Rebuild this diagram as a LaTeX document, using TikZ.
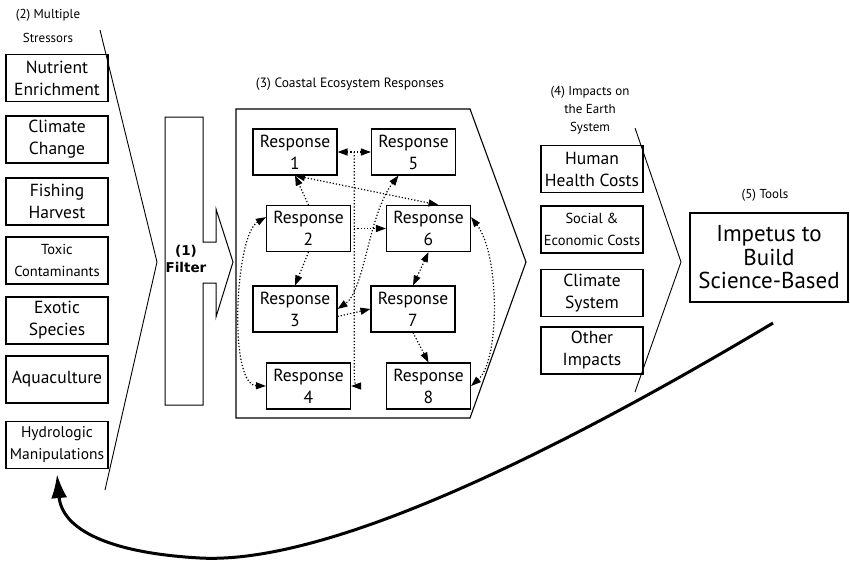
\documentclass[tikz,border=0pt]{standalone}
\usepackage{fontspec}
\setmainfont{PT Sans}
\newfontfamily\filterfont{DejaVu Sans}
\usetikzlibrary{arrows.meta,calc}

\tikzset{
  box/.style={draw, line width=1.1pt, inner sep=0pt, align=center,
    minimum width=102pt, minimum height=47pt, font=\fontsize{17.5}{22}\selectfont},
  resp/.style={box, minimum width=84pt, minimum height=46pt},
  heading/.style={align=center, font=\fontsize{13}{17}\selectfont},
  chevron/.style={line width=0.9pt},
  link/.style={dotted, line width=1.2pt,
    {Triangle[length=10pt,width=7pt]}-{Triangle[length=10pt,width=7pt]}},
  onelink/.style={link, -{Triangle[length=10pt,width=7pt]}},
}

\begin{document}
\begin{tikzpicture}[x=1pt, y=-1pt]
	\useasboundingbox (0,0) rectangle (850,560);

	% stressors column
	\node[heading] (stresslbl) at (48,26) {(2) Multiple\\[7pt]Stressors};
	\node[box] (nutrient) at (57,78) {Nutrient\\Enrichment};
	\node[box] (climate) at (57,139.5) {Climate\\Change};
	\node[box] (fishing) at (57,201.5) {Fishing\\Harvest};
	\node[box, font=\fontsize{14.5}{22}\selectfont] (toxic) at (57,260.5) {Toxic\\Contaminants};
	\node[box] (exotic) at (57,320.5) {Exotic\\Species};
	\node[box] (aqua) at (57,379.5) {Aquaculture};
	\node[box, font=\fontsize{15.5}{22}\selectfont] (hydro) at (57,445) {Hydrologic\\Manipulations};
	\draw[chevron] (100,30) -- (157,262) -- (105,490);

	% filter with its arrow
	\draw[line width=1pt] (165,117) -- (203,117) -- (203,242) -- (216,242) -- (216,209)
		-- (233,262) -- (216,317) -- (216,283) -- (203,283) -- (203,405) -- (165,405) -- cycle;
	\node[align=center, font=\filterfont\bfseries\fontsize{13.5}{17}\selectfont] (filter) at (186,259) {(1)\\Filter};

	% ecosystem responses
	\node[heading, font=\fontsize{13.5}{17}\selectfont] (resplbl) at (350,84) {(3) Coastal Ecosystem Responses};
	\draw[line width=1.1pt] (236,109) -- (470,109) -- (526,262) -- (470,418) -- (236,418) -- cycle;
	\node foreach \n/\x/\y in {1/295/152, 5/413.5/152, 2/308.5/228.5, 6/428.5/228.5,
		3/295/309, 7/413/309, 4/308.5/386, 8/428.5/386} [resp] (r\n) at (\x,\y) {Response\\\n};

	\coordinate (hub) at ($(r1.east)!0.5!(r5.west)$);
	\draw[link] (r1.east) -- (r5.west);
	\draw[onelink] (hub) -- (hub |- r4.north) .. controls (hub |- r4.east) .. (r4.east);
	\draw[onelink] (hub |- r6.west) -- (r6.west);
	\draw[onelink] (r2.north) -- (r1.south);
	\draw[link] (r1.south) -- ([xshift=10pt]r6.north);
	\draw[link] ([xshift=-15pt]r5.south) .. controls (368,215) and (365,290) .. (r3.east);
	\draw[onelink] (r3.-10) -- (r7.west);
	\draw[onelink] (r2.south) -- (r3.north);
	\draw[link] (r6.south) -- (r7.north);
	\draw[onelink] (r7.south) -- (r8.north);
	\draw[link] (r2.165) .. controls (235,235) and (228,385) .. (r4.west);
	\draw[link] (r6.15) .. controls (500,255) and (500,360) .. (r8.east);

	% impacts column
	\node[heading, font=\fontsize{13}{18}\selectfont] (implbl) at (590,110) {(4) Impacts on\\the Earth\\System};
	\node[box] (health) at (592,169) {Human\\Health Costs};
	\node[box, font=\fontsize{14.5}{22}\selectfont] (social) at (592,229.5) {Social \&\\Economic Costs};
	\node[box] (climsys) at (592,293) {Climate\\System};
	\node[box] (other) at (592,350.5) {Other\\Impacts};
	\draw[chevron] (635,128) -- (681,262) -- (635,392);

	% tools
	\node[heading] (toolslbl) at (765,195) {(5) Tools};
	\node[box, minimum width=158pt, minimum height=89pt, font=\fontsize{23}{23.5}\selectfont] (tools) at (769,257.5) {Impetus to\\Build\\Science-Based};

	% feedback loop
	\coordinate (loopstart) at (773,323);
	\draw[line width=3pt, -{Latex[length=24pt,width=16pt]}] (loopstart)
		.. controls (560,450) and (330,565) .. (200,558)
		.. controls (110,553) and (62,530) .. ([yshift=-5pt]hydro.south);
\end{tikzpicture}
\end{document}
